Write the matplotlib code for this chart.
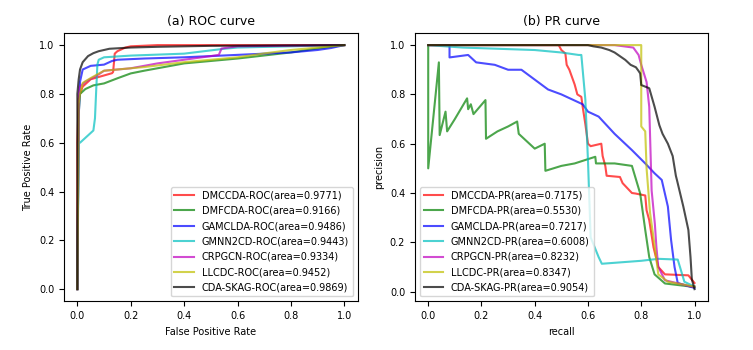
import matplotlib
matplotlib.use('Agg')
import matplotlib.pyplot as plt

# ROC curves: (fpr, tpr)
roc_labels = ['DMCCDA-ROC(area=0.9771)', 'DMFCDA-ROC(area=0.9166)', 'GAMCLDA-ROC(area=0.9486)',
              'GMNN2CD-ROC(area=0.9443)', 'CRPGCN-ROC(area=0.9334)', 'LLCDC-ROC(area=0.9452)',
              'CDA-SKAG-ROC(area=0.9869)']
pr_labels = ['DMCCDA-PR(area=0.7175)', 'DMFCDA-PR(area=0.5530)', 'GAMCLDA-PR(area=0.7217)',
             'GMNN2CD-PR(area=0.6008)', 'CRPGCN-PR(area=0.8232)', 'LLCDC-PR(area=0.8347)',
             'CDA-SKAG-PR(area=0.9054)']
colors = ['r', 'g', 'b', 'c', 'm', 'y', 'k']

roc_dmccda_x = [0, 0, 0.005, 0.01, 0.02, 0.05, 0.13, 0.134, 0.14, 0.15, 0.18, 0.2, 0.3, 1.0]
roc_dmccda_y = [0, 0.6, 0.78, 0.8, 0.83, 0.86, 0.885, 0.89, 0.965, 0.975, 0.99, 0.995, 1.0, 1.0]
roc_dmfcda_x = [0, 0.005, 0.01, 0.03, 0.06, 0.1, 0.15, 0.2, 0.25, 0.4, 0.6, 0.8, 0.9, 1.0]
roc_dmfcda_y = [0, 0.72, 0.8, 0.82, 0.835, 0.843, 0.864, 0.884, 0.895, 0.925, 0.945, 0.97, 0.986, 1.0]
roc_gamclda_x = [0, 0.005, 0.01, 0.02, 0.05, 0.1, 0.13, 0.15, 0.25, 0.4, 0.6, 0.8, 0.9, 0.95, 1.0]
roc_gamclda_y = [0, 0.7, 0.85, 0.9, 0.915, 0.92, 0.935, 0.94, 0.945, 0.95, 0.96, 0.97, 0.98, 0.988, 1.0]
roc_gmnn2cd_x = [0, 0.005, 0.01, 0.02, 0.04, 0.06, 0.066, 0.07, 0.075, 0.08, 0.1, 0.2, 0.4, 0.55, 0.6, 1.0]
roc_gmnn2cd_y = [0, 0.6, 0.6, 0.61, 0.63, 0.65, 0.7, 0.8, 0.92, 0.94, 0.95, 0.957, 0.965, 0.985, 0.99, 1.0]
roc_crpgcn_x = [0, 0.005, 0.01, 0.03, 0.08, 0.1, 0.2, 0.3, 0.5, 0.53, 0.54, 0.6, 1.0]
roc_crpgcn_y = [0, 0.8, 0.83, 0.85, 0.88, 0.895, 0.905, 0.925, 0.955, 0.96, 0.986, 0.995, 1.0]
roc_llcdc_x = [0, 0.005, 0.01, 0.02, 0.05, 0.1, 0.25, 0.4, 0.6, 0.7, 0.8, 0.9, 1.0]
roc_llcdc_y = [0, 0.76, 0.8, 0.845, 0.865, 0.895, 0.91, 0.93, 0.95, 0.966, 0.98, 0.99, 1.0]
roc_skag_x = [0, 0, 0.005, 0.01, 0.02, 0.04, 0.06, 0.08, 0.12, 0.2, 0.3, 0.5, 1.0]
roc_skag_y = [0, 0.8, 0.86, 0.9, 0.93, 0.955, 0.967, 0.975, 0.985, 0.99, 0.993, 0.997, 1.0]

roc_x = [roc_dmccda_x, roc_dmfcda_x, roc_gamclda_x, roc_gmnn2cd_x, roc_crpgcn_x, roc_llcdc_x, roc_skag_x]
roc_y = [roc_dmccda_y, roc_dmfcda_y, roc_gamclda_y, roc_gmnn2cd_y, roc_crpgcn_y, roc_llcdc_y, roc_skag_y]

# PR curves: (recall, precision)
pr_dmccda_x = [0, 0.49, 0.5, 0.515, 0.52, 0.53, 0.54, 0.55, 0.56, 0.575, 0.58, 0.59, 0.6, 0.61, 0.65, 0.655, 0.665,
               0.67, 0.72, 0.73, 0.765, 0.778, 0.815, 0.82, 0.83, 0.846, 0.864, 0.889, 0.977, 1.0]
pr_dmccda_y = [1.0, 1.0, 0.98, 0.966, 0.92, 0.9, 0.87, 0.84, 0.8, 0.79, 0.75, 0.68, 0.6, 0.59, 0.6, 0.55, 0.51,
               0.47, 0.465, 0.44, 0.4, 0.398, 0.39, 0.33, 0.29, 0.18, 0.1, 0.07, 0.066, 0.035]
pr_dmfcda_x = [0, 0.0, 0.04, 0.043, 0.065, 0.071, 0.1, 0.146, 0.15, 0.16, 0.17, 0.215, 0.217, 0.26, 0.3, 0.334, 0.34,
               0.36, 0.4, 0.4375, 0.44, 0.5, 0.55, 0.6275, 0.63, 0.7, 0.765, 0.796, 0.815, 0.83, 0.85, 0.889, 0.99, 1.0]
pr_dmfcda_y = [1.0, 0.5, 0.93, 0.635, 0.73, 0.65, 0.7, 0.784, 0.74, 0.76, 0.72, 0.777, 0.62, 0.65, 0.67, 0.69, 0.64,
               0.62, 0.58, 0.6, 0.49, 0.51, 0.52, 0.547, 0.52, 0.52, 0.51, 0.398, 0.25, 0.14, 0.07, 0.033, 0.02, 0.02]
pr_gamclda_x = [0, 0.08, 0.08, 0.15, 0.18, 0.25, 0.3, 0.35, 0.4, 0.45, 0.5, 0.58, 0.6, 0.64, 0.7, 0.765, 0.815,
                0.85, 0.877, 0.9, 0.912, 0.925, 0.937, 1.0]
pr_gamclda_y = [1.0, 1.0, 0.95, 0.96, 0.93, 0.92, 0.9, 0.9, 0.86, 0.82, 0.8, 0.76, 0.73, 0.71, 0.64, 0.574, 0.52,
                0.48, 0.453, 0.345, 0.21, 0.1, 0.035, 0.015]
pr_gmnn2cd_x = [0, 0.13, 0.4, 0.5, 0.565, 0.575, 0.59, 0.6, 0.61, 0.64, 0.652, 0.8, 0.864, 0.937, 0.962, 1.0]
pr_gmnn2cd_y = [1.0, 0.99, 0.98, 0.97, 0.96, 0.96, 0.78, 0.53, 0.22, 0.14, 0.113, 0.125, 0.133, 0.13, 0.04, 0.02]
pr_crpgcn_x = [0, 0.7, 0.77, 0.79, 0.8, 0.82, 0.83, 0.839, 0.851, 0.857, 0.864, 0.889, 0.99, 1.0]
pr_crpgcn_y = [1.0, 1.0, 0.99, 0.96, 0.92, 0.85, 0.75, 0.41, 0.276, 0.18, 0.1, 0.046, 0.02, 0.02]
pr_llcdc_x = [0, 0.8, 0.8, 0.815, 0.82, 0.833, 0.851, 0.864, 0.9, 1.0]
pr_llcdc_y = [1.0, 1.0, 0.67, 0.65, 0.5, 0.32, 0.18, 0.07, 0.04, 0.02]
pr_skag_x = [0, 0.6, 0.62, 0.65, 0.68, 0.7, 0.72, 0.74, 0.76, 0.78, 0.79, 0.796, 0.8, 0.83, 0.85, 0.868, 0.88,
             0.9, 0.918, 0.93, 0.934, 0.958, 0.977, 0.985, 0.99, 1.0]
pr_skag_y = [1.0, 1.0, 0.995, 0.99, 0.98, 0.97, 0.955, 0.94, 0.92, 0.91, 0.895, 0.885, 0.838, 0.825, 0.75, 0.675, 0.64,
             0.6, 0.55, 0.47, 0.453, 0.345, 0.25, 0.14, 0.05, 0.01]

pr_x = [pr_dmccda_x, pr_dmfcda_x, pr_gamclda_x, pr_gmnn2cd_x, pr_crpgcn_x, pr_llcdc_x, pr_skag_x]
pr_y = [pr_dmccda_y, pr_dmfcda_y, pr_gamclda_y, pr_gmnn2cd_y, pr_crpgcn_y, pr_llcdc_y, pr_skag_y]

fig = plt.figure(figsize=(7.53, 3.5), dpi=100)
ax1 = fig.add_axes([0.085, 0.139, 0.39, 0.767])
ax2 = fig.add_axes([0.551, 0.139, 0.389, 0.767])

for xs, ys, c, lab in zip(roc_x, roc_y, colors, roc_labels):
    ax1.plot(xs, ys, color=c, alpha=0.7, lw=1.5, label=lab)
ax1.set_title('(a) ROC curve', fontsize=9)
ax1.set_xlabel('False Positive Rate', fontsize=7)
ax1.set_ylabel('True Positive Rate', fontsize=7)
ax1.legend(loc='lower right', fontsize=7, labelspacing=0.55)

for xs, ys, c, lab in zip(pr_x, pr_y, colors, pr_labels):
    ax2.plot(xs, ys, color=c, alpha=0.7, lw=1.5, label=lab)
ax2.set_title('(b) PR curve', fontsize=9)
ax2.set_xlabel('recall', fontsize=7)
ax2.set_ylabel('precision', fontsize=7)
ax2.legend(loc='lower left', fontsize=7, labelspacing=0.55)

for ax in (ax1, ax2):
    ax.tick_params(labelsize=7)

fig.savefig('out.png', dpi=100)
